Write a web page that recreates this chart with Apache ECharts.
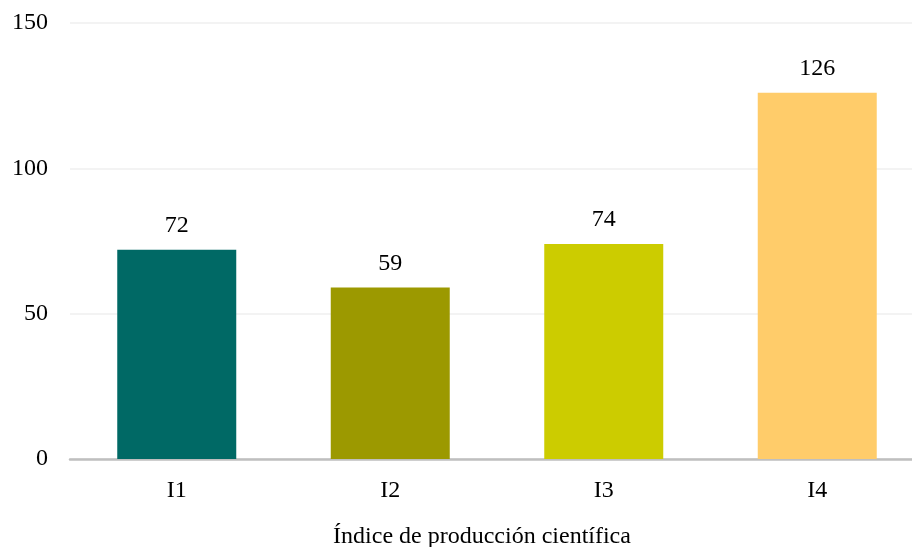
<!DOCTYPE html>
<html>
<head>
<meta charset="utf-8">
<script src="https://cdn.jsdelivr.net/npm/echarts@6/dist/echarts.min.js"></script>
<style>
  html, body { margin: 0; padding: 0; background: #fff; }
  #chart { width: 912px; height: 547px; }
</style>
</head>
<body>
<div id="chart"></div>
<script>
const categories = ['I1', 'I2', 'I3', 'I4']
const values = [72, 59, 74, 126]
const barColors = ['#006965', '#9C9900', '#CCCC00', '#FFCC6A']
const yTicks = [0, 50, 100, 150]
const xTitle = 'Índice de producción científica'

const font = '"Liberation Serif", "DejaVu Serif", serif'

let myChart = echarts.init(document.getElementById('chart'))
myChart.setOption({
    animation: false,
    textStyle: { fontFamily: font },
    grid: {
        left: 70,
        top: 23,
        right: -12,
        bottom: 88,
        containLabel: false,
        outerBoundsMode: 'none'
    },
    xAxis: {
        type: 'category',
        data: categories,
        name: xTitle,
        nameLocation: 'middle',
        nameGap: 66,
        nameTextStyle: { fontFamily: font, fontSize: 24, color: '#000', padding: [0, 30, 0, 0] },
        axisLine: { lineStyle: { color: '#bfbfbf', width: 2.5 } },
        axisTick: { show: false },
        axisLabel: { fontFamily: font, fontSize: 24, color: '#000', margin: 20 }
    },
    yAxis: {
        type: 'value',
        min: yTicks[0],
        max: yTicks[yTicks.length - 1],
        interval: 50,
        axisLine: { show: false },
        axisTick: { show: false },
        axisLabel: { fontFamily: font, fontSize: 24, color: '#000', margin: 22 },
        splitLine: { lineStyle: { color: '#efefef', width: 1.5 } }
    },
    series: [
        {
            type: 'bar',
            barWidth: 119,
            data: values.map((v, i) => ({ value: v, itemStyle: { color: barColors[i] } })),
            label: {
                show: true,
                position: 'top',
                distance: 12,
                fontFamily: font,
                fontSize: 24,
                color: '#000'
            }
        }
    ]
})
</script>
</body>
</html>
